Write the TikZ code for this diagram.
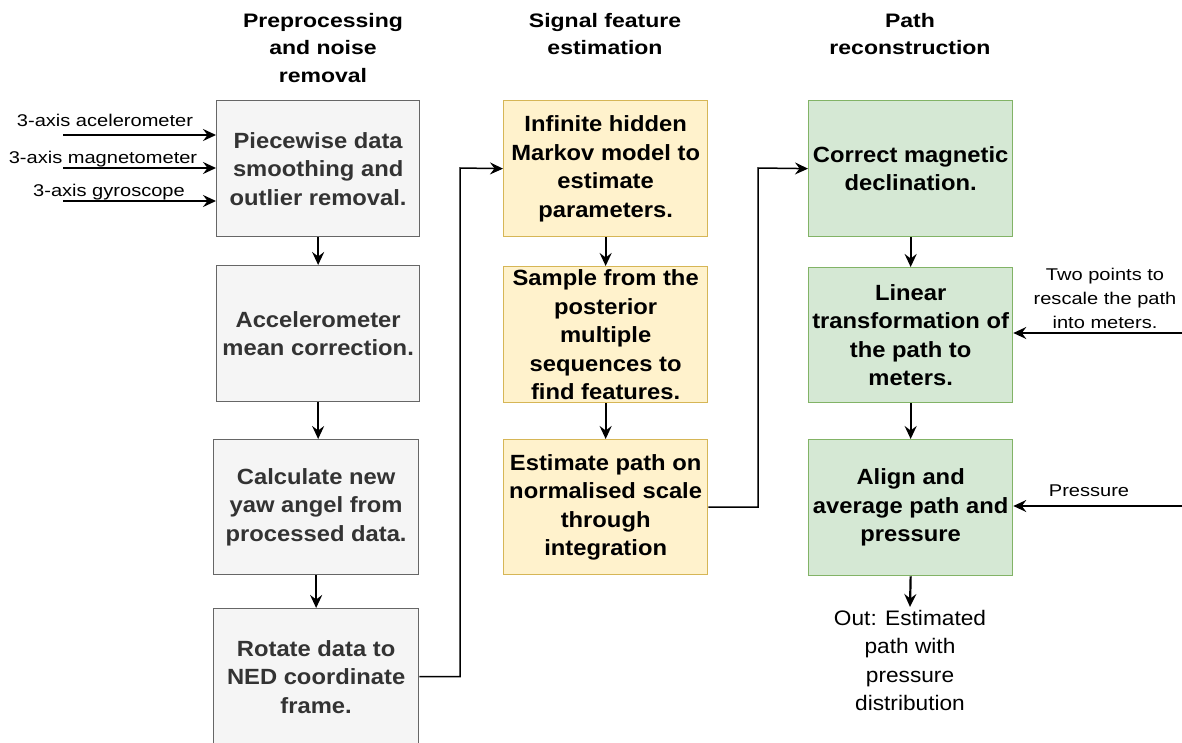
\documentclass[tikz,border=0pt]{standalone}
\usepackage{fontspec}
\setmainfont{Liberation Sans}
\newfontfamily\fontA{Liberation Sans}[FakeStretch=1.08]
\newfontfamily\fontB{Liberation Sans}[FakeStretch=1.18]
\usetikzlibrary{arrows.meta}
\definecolor{gfill}{HTML}{F5F5F5}
\definecolor{gdraw}{HTML}{666666}
\definecolor{gtext}{HTML}{333333}
\definecolor{yfill}{HTML}{FFF2CC}
\definecolor{ydraw}{HTML}{D6B656}
\definecolor{grfill}{HTML}{D5E8D4}
\definecolor{grdraw}{HTML}{82B366}
\tikzset{
  box/.style={draw, line width=1.3pt, minimum width=204pt, minimum height=136pt,
    anchor=north west, align=center, inner sep=0pt,
    font=\fontA\bfseries\fontsize{22}{28.5}\selectfont},
  gbox/.style={box, fill=gfill, draw=gdraw, text=gtext},
  ybox/.style={box, fill=yfill, draw=ydraw, text=black},
  grbox/.style={box, fill=grfill, draw=grdraw, text=black},
  hdr/.style={anchor=north, align=center, inner sep=0pt,
    font=\fontB\bfseries\fontsize{19.5}{27.5}\selectfont},
  lbl/.style={inner sep=0pt, font=\fontB\fontsize{17}{24}\selectfont},
  arr/.style={-{Stealth[length=13pt,width=12pt,inset=4.5pt]}, line width=2.2pt},
  arrt/.style={arr, line width=1.5pt}
}
\begin{document}
\begin{tikzpicture}[x=1pt,y=-1pt]
\useasboundingbox (0,0) rectangle (1182,743);

% headers
\node[hdr] (h1) at (323,13) {Preprocessing\\and noise\\removal};
\node[hdr] (h2) at (605,13) {Signal feature\\estimation};
\node[hdr] (h3) at (910,13) {Path\\reconstruction};

% gray column
\node[gbox, minimum width=203pt] (b1) at (216,100) {Piecewise data\\smoothing and\\outlier removal.};
\node[gbox, minimum width=203pt] (b2) at (216,265) {Accelerometer\\mean correction.};
\node[gbox, minimum width=205pt, minimum height=135pt] (b3) at (213,439) {Calculate new\\yaw angel from\\processed data.};
\node[gbox, minimum width=205pt] (b4) at (213,608) {Rotate data to\\NED coordinate\\frame.};

% yellow column
\node[ybox] (y1) at (503,100) {Infinite hidden\\Markov model to\\estimate\\parameters.};
\node[ybox] (y2) at (503,266) {Sample from the\\posterior\\multiple\\sequences to\\find features.};
\node[ybox, minimum height=135pt] (y3) at (503,439) {Estimate path on\\normalised scale\\through\\integration};

% green column
\node[grbox] (g1) at (808,100) {Correct magnetic\\declination.};
\node[grbox, minimum height=135pt] (g2) at (808,267) {Linear\\transformation of\\the path to\\meters.};
\node[grbox] (g3) at (808,439) {Align and\\average path and\\pressure};

% output
\node[anchor=north, align=center, inner ysep=3pt, inner xsep=0pt,
  font=\fontA\fontsize{21}{28.5}\selectfont] (out) at (910,607)
  {Out: Estimated\\path with\\pressure\\distribution};

% input labels
\node[lbl, anchor=base] (l1) at (105,127) {3-axis acelerometer};
\node[lbl, anchor=base] (l2) at (103,163.5) {3-axis magnetometer};
\node[lbl, anchor=base] (l3) at (109,196.5) {3-axis gyroscope};
\node[lbl, anchor=north, align=center] (t1) at (1105,268) {Two points to\\rescale the path\\into meters.};
\node[lbl, anchor=base] (t2) at (1089,496) {Pressure};

% input arrows
\coordinate (i1) at (63,135);
\coordinate (i2) at (63,168);
\coordinate (i3) at (63,201);
\draw[arr] (i1) -- (i1 -| b1.west);
\draw[arr] (i2) -- (i2 -| b1.west);
\draw[arr] (i3) -- (i3 -| b1.west);
\coordinate (r1) at (1182,333);
\coordinate (r2) at (1182,506);
\draw[arrt] (r1) -- (r1 -| g2.east);
\draw[arrt] (r2) -- (r2 -| g3.east);

% flow arrows
\draw[arr] (b1.south) -- (b2.north);
\draw[arrt] (b2.south) -- (b2.south |- b3.north);
\draw[arr] (b3.south) -- (b4.north);
\coordinate (j1) at (460,168);
\draw[arrt] (b4.east) -| (j1) -- (y1.west);
\draw[arr] (y1.south) -- (y2.north);
\draw[arr] (y2.south) -- (y3.north);
\coordinate (j2) at (758,168);
\draw[arrt] (y3.east) -| (j2) -- (g1.west);
\draw[arr] (g1.south) -- (g2.north);
\draw[arr] (g2.south) -- (g3.north);
\draw[arr] (g3.south) -- (out.north);
\end{tikzpicture}
\end{document}
